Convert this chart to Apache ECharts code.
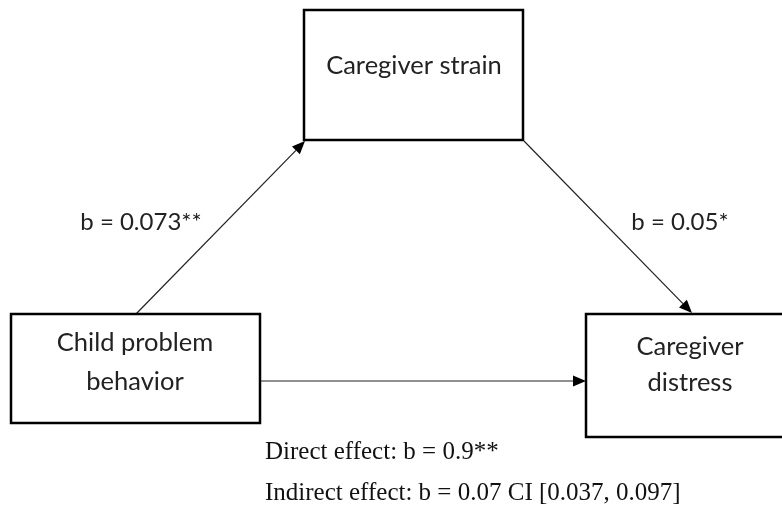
<!DOCTYPE html>
<html><head><meta charset="utf-8">
<script src="https://cdn.jsdelivr.net/npm/echarts@6/dist/echarts.min.js"></script>
<style>html,body{margin:0;padding:0;background:#fff}#c{width:782px;height:510px}</style>
</head><body><div id="c"></div>
<script>
// ---- data ----
const nodeIds = ['strain', 'child', 'distress'];
const nodeLabels = ['Caregiver strain', 'Child problem\nbehavior', 'Caregiver\ndistress'];
const edgeFrom = ['child', 'strain', 'child'];
const edgeTo = ['strain', 'distress', 'distress'];
const edgeLabels = ['b = 0.073**', 'b = 0.05*', ''];
const effectLines = ['Direct effect: b = 0.9**', 'Indirect effect: b = 0.07 CI [0.037, 0.097]'];

// ---- layout (diagram space, drawn through axes) ----
const boxRect = { strain: [304, 10, 523, 140], child: [11, 314, 260, 423], distress: [586, 314, 795, 437] };
const boxTextPos = { strain: [414, 66], child: [135, 362], distress: [690, 365] };
const boxLineHeight = { strain: 30, child: 39, distress: 36 };
const edgePath = [[[136, 314], [305, 141]], [[524, 141], [692, 313]], [[260, 381], [586, 381]]];
const edgeLabelPos = [[141, 222], [680, 222]];
const effectPos = [[265, 452], [265, 493]];

const sansFont = 'Lato, "Open Sans", sans-serif';
const serifFont = '"Liberation Serif", "DejaVu Serif", serif';

function renderBox(params, api) {
  const id = nodeIds[params.dataIndex];
  const r = boxRect[id];
  const p0 = api.coord([r[0], r[1]]);
  const p1 = api.coord([r[2], r[3]]);
  const t = api.coord(boxTextPos[id]);
  return {
    type: 'group',
    children: [
      { type: 'rect', shape: { x: p0[0], y: p0[1], width: p1[0] - p0[0], height: p1[1] - p0[1] },
        style: { fill: '#fff', stroke: '#000', lineWidth: 2.5 } },
      { type: 'text', style: { text: nodeLabels[params.dataIndex], x: t[0], y: t[1], fill: '#222',
        font: '25.5px ' + sansFont, align: 'center', verticalAlign: 'middle', lineHeight: boxLineHeight[id] } }
    ]
  };
}

function renderEdge(params, api) {
  const i = params.dataIndex;
  const a = api.coord(edgePath[i][0]);
  const b = api.coord(edgePath[i][1]);
  const dx = b[0] - a[0], dy = b[1] - a[1];
  const len = Math.sqrt(dx * dx + dy * dy);
  const ux = dx / len, uy = dy / len;
  const L = 13, W = 5.5;
  const bx = b[0] - ux * L, by = b[1] - uy * L;
  const children = [
    { type: 'line', shape: { x1: a[0], y1: a[1], x2: bx, y2: by }, style: { stroke: '#222', lineWidth: 1.2 } },
    { type: 'polygon', shape: { points: [[b[0], b[1]], [bx - uy * W, by + ux * W], [bx + uy * W, by - ux * W]] },
      style: { fill: '#000' } }
  ];
  if (edgeLabels[i]) {
    const lp = api.coord(edgeLabelPos[i]);
    children.push({ type: 'text', style: { text: edgeLabels[i], x: lp[0], y: lp[1], fill: '#222',
      font: '24px ' + sansFont, align: 'center', verticalAlign: 'middle' } });
  }
  return { type: 'group', children };
}

function renderEffect(params, api) {
  const i = params.dataIndex;
  const p = api.coord(effectPos[i]);
  return { type: 'text', style: { text: effectLines[i], x: p[0], y: p[1], fill: '#111',
    font: '25px ' + serifFont, align: 'left', verticalAlign: 'middle' } };
}

const chart = echarts.init(document.getElementById('c'), null, { renderer: 'canvas' });
chart.setOption({
  animation: false,
  backgroundColor: '#fff',
  grid: { left: 0, right: 0, top: 0, bottom: 0 },
  xAxis: { type: 'value', min: 0, max: 782, show: false },
  yAxis: { type: 'value', min: 0, max: 510, inverse: true, show: false },
  series: [
    { type: 'custom', clip: false, renderItem: renderEdge, data: edgeFrom.map((f, i) => [i, f, edgeTo[i]]), z: 1 },
    { type: 'custom', clip: false, renderItem: renderBox, data: nodeIds.map((n, i) => [i]), z: 2 },
    { type: 'custom', clip: false, renderItem: renderEffect, data: effectLines.map((t, i) => [i]), z: 3 }
  ]
});
</script>
</body></html>
